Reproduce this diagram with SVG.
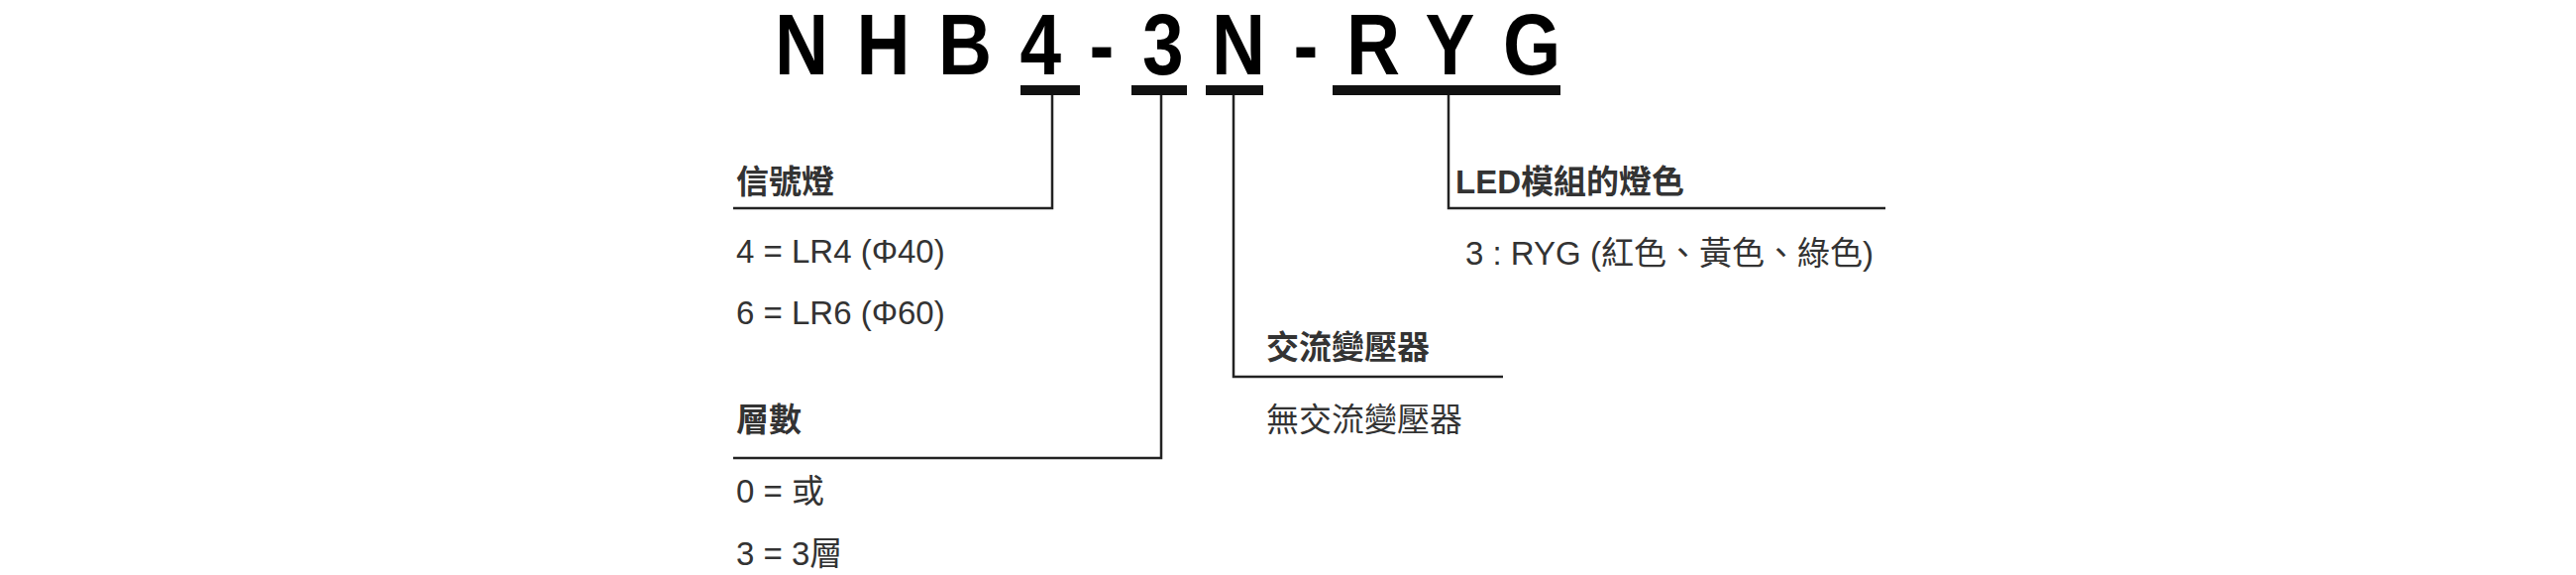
<svg xmlns="http://www.w3.org/2000/svg" width="2600" height="580" viewBox="0 0 2600 580">
<style>
.t{font-family:"Liberation Sans","Noto Sans CJK TC",sans-serif;font-size:33px;fill:#333}
.h{font-weight:bold}
.ln{stroke:#222;stroke-width:2.5;fill:none}
.bar{fill:#111}
</style>
<rect width="2600" height="580" fill="#fff"/>
<g id="title" transform="translate(-5,0)"><text transform="scale(0.85,1)" x="926" y="75" font-family="Liberation Sans,sans-serif" font-weight="bold" font-size="88" textLength="933" lengthAdjust="spacing" fill="#000">NHB4-3N-RYG</text>
<rect class="bar" x="1035" y="86" width="60" height="10"/>
<rect class="bar" x="1147" y="86" width="56" height="10"/>
<rect class="bar" x="1222" y="86" width="58" height="10"/>
<rect class="bar" x="1350" y="86" width="230" height="10"/></g>
<g id="connectors" transform="translate(-5,0)">
<polyline class="ln" points="1067,96 1067,210 745,210"/>
<polyline class="ln" points="1177,96 1177,462 745,462"/>
<polyline class="ln" points="1250,96 1250,380 1522,380"/>
<polyline class="ln" points="1467,96 1467,210 1908,210"/>
</g>
<g id="signal"><text class="t h" x="743" y="195">信號燈</text>
<text class="t" x="743" y="265">4 = LR4 (Φ40)</text>
<text class="t" x="743" y="327">6 = LR6 (Φ60)</text></g>
<g id="layers"><text class="t h" x="743" y="435">層數</text>
<text class="t" x="743" y="507">0 = 或</text>
<text class="t" x="743" y="570">3 = 3層</text></g>
<g id="transformer"><text class="t h" x="1278" y="362">交流變壓器</text>
<text class="t" x="1278" y="435">無交流變壓器</text></g>
<g id="led"><text class="t h" x="1469" y="195">LED模組的燈色</text>
<text class="t" x="1479" y="267">3 : RYG (紅色、黃色、綠色)</text></g>
</svg>
